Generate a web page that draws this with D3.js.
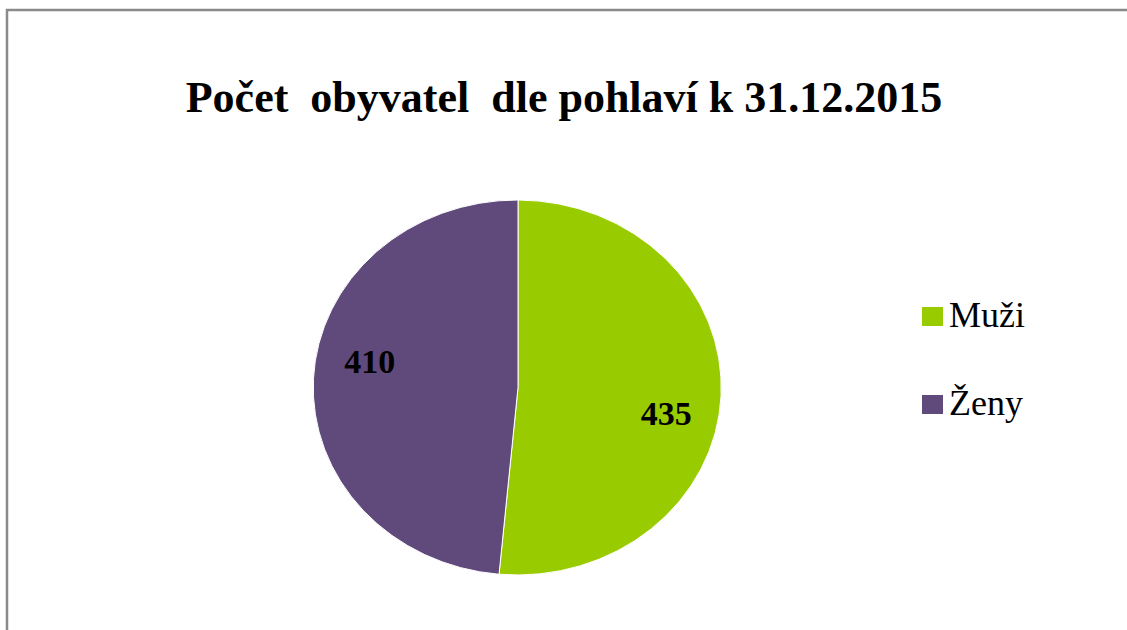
<!DOCTYPE html>
<html>
<head>
<meta charset="utf-8">
<script src="https://cdn.jsdelivr.net/npm/d3@7"></script>
<style>
  html, body { margin: 0; padding: 0; background: #fff; }
  svg { display: block; }
  text { white-space: pre; }
</style>
</head>
<body>
<div id="chart"></div>
<script>
const title = 'Počet  obyvatel  dle pohlaví k 31.12.2015';
const categories = ['Muži', 'Ženy'];
const values = [435, 410];
const colors = ['#99CC00', '#604A7B'];

const width = 1127;
const height = 630;

const cx = 518;
const cy = 387.5;
const rx = 204;
const ry = 187.5;

const svg = d3.select('#chart')
  .append('svg')
    .attr('width', width)
    .attr('height', height);

// chart frame (only left and top edges are visible in the crop)
svg.append('path')
    .attr('d', 'M7,' + height + ' V10 H' + width)
    .attr('fill', 'none')
    .attr('stroke', '#8a8a8a')
    .attr('stroke-width', 2.5);

svg.append('text')
    .attr('x', 564)
    .attr('y', 112)
    .attr('text-anchor', 'middle')
    .attr('font-family', '"Liberation Serif", "Times New Roman", serif')
    .attr('font-weight', 'bold')
    .attr('font-size', 44)
    .attr('fill', '#000')
    .text(title);

let data = categories.map(function(c, i) {
  return {name: c, value: values[i], color: colors[i]};
});

let pie = d3.pie()
    .sort(null)
    .value(function(d) { return d.value; });

let arcs = pie(data);

// unit radius, stretched into an ellipse like the original
let arc = d3.arc()
    .innerRadius(0)
    .outerRadius(1);

let g = svg.append('g')
    .attr('transform', 'translate(' + cx + ',' + cy + ')');

let slices = g.append('g')
    .attr('transform', 'scale(' + rx + ',' + ry + ')');

slices.selectAll('path')
    .data(arcs)
  .enter()
  .append('path')
    .attr('d', arc)
    .attr('fill', function(d) { return d.data.color; })
    .attr('stroke', '#fff')
    .attr('stroke-width', 1)
    .attr('vector-effect', 'non-scaling-stroke');

// data labels, a bit past the middle angle of each slice
const labelR = 0.74;
const labelShift = 8 * Math.PI / 180;

g.selectAll('text.value')
    .data(arcs)
  .enter()
  .append('text')
    .attr('class', 'value')
    .attr('x', function(d) {
      let a = (d.startAngle + d.endAngle) / 2 + labelShift;
      return Math.sin(a) * labelR * rx;
    })
    .attr('y', function(d) {
      let a = (d.startAngle + d.endAngle) / 2 + labelShift;
      return -Math.cos(a) * labelR * ry;
    })
    .attr('dy', '0.34em')
    .attr('text-anchor', 'middle')
    .attr('font-family', '"Liberation Serif", "Times New Roman", serif')
    .attr('font-weight', 'bold')
    .attr('font-size', 34)
    .attr('fill', '#000')
    .text(function(d) { return d.data.value; });

// legend
const legendX = 922;
const legendY = 327;
const legendStep = 88;

let legend = svg.append('g');

let item = legend.selectAll('g')
    .data(data)
  .enter()
  .append('g')
    .attr('transform', function(d, i) {
      return 'translate(' + legendX + ',' + (legendY + i * legendStep) + ')';
    });

item.append('rect')
    .attr('x', 0)
    .attr('y', -20)
    .attr('width', 21)
    .attr('height', 19)
    .attr('fill', function(d) { return d.color; });

item.append('text')
    .attr('x', 27)
    .attr('y', 0)
    .attr('font-family', '"Liberation Serif", "Times New Roman", serif')
    .attr('font-size', 36)
    .attr('fill', '#000')
    .text(function(d) { return d.name; });
</script>
</body>
</html>
